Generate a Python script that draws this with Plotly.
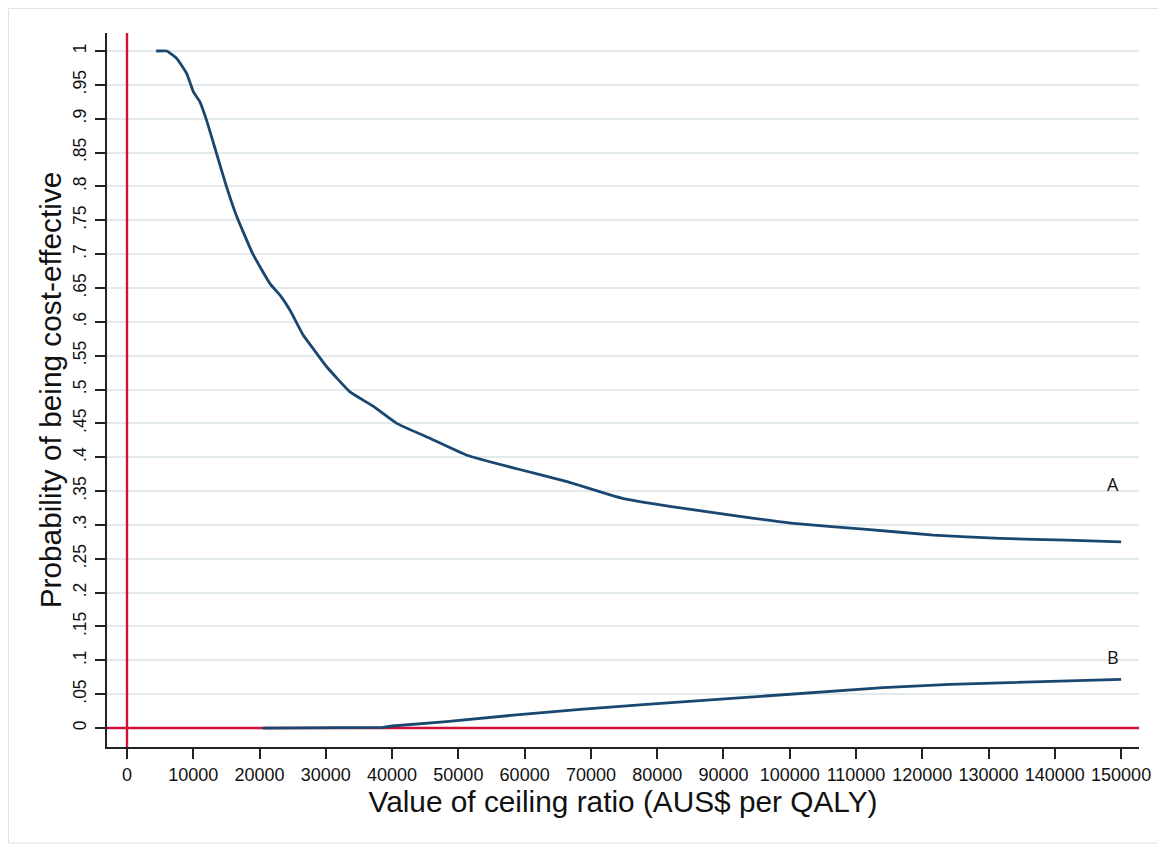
import plotly.graph_objects as go

# ---- data ----
ceiling_a = [4400, 6000, 7500, 9000, 10000, 11000, 12000, 13500, 15000, 16500,
             19000, 21600, 23200, 24600, 26600, 28500, 30100, 33600, 37200, 40700,
             45700, 51300, 58800, 66400, 74900, 84000, 93000, 101000, 111600,
             121700, 131700, 141800, 150000]
prob_a = [1.0, 1.0, 0.989, 0.967, 0.940, 0.925, 0.898, 0.849, 0.800, 0.757,
          0.700, 0.656, 0.638, 0.617, 0.580, 0.555, 0.534, 0.497, 0.475, 0.450,
          0.428, 0.403, 0.383, 0.364, 0.339, 0.3245, 0.312, 0.302, 0.2935,
          0.285, 0.280, 0.2775, 0.275]

ceiling_b = [20500, 33000, 38600, 40000, 48200, 58300, 68400, 78400, 88500, 95000,
             104100, 114100, 124200, 134200, 144300, 150000]
prob_b = [0.0, 0.0, 0.001, 0.003, 0.0094, 0.019, 0.0276, 0.035, 0.042, 0.047,
          0.0537, 0.0596, 0.0645, 0.0675, 0.070, 0.072]

series_labels = ["A", "B"]
label_pos_x = [148800, 148800]
label_pos_y = [0.36, 0.105]

x_ticks = list(range(0, 150001, 10000))
x_ticktext = [str(v) for v in x_ticks]
y_ticks = [i * 0.05 for i in range(21)]
y_ticktext = ["0", ".05", ".1", ".15", ".2", ".25", ".3", ".35", ".4", ".45", ".5",
              ".55", ".6", ".65", ".7", ".75", ".8", ".85", ".9", ".95", "1"]

X_RANGE = [-3018, 152700]
Y_RANGE = [-0.028, 1.0266]

NAVY = "#1a476f"
RED = "#cf1139"
GRID = "#e3eaee"

fig = go.Figure()
fig.add_trace(go.Scatter(x=ceiling_a, y=prob_a, mode="lines",
                         line=dict(color=NAVY, width=2.8, shape="spline", smoothing=0.4),
                         name="A"))
fig.add_trace(go.Scatter(x=ceiling_b, y=prob_b, mode="lines",
                         line=dict(color=NAVY, width=2.8), name="B"))

for lab, lx, ly in zip(series_labels, label_pos_x, label_pos_y):
    fig.add_annotation(x=lx, y=ly, text=lab, showarrow=False,
                       font=dict(family="Open Sans", size=18, color="#111"))

# reference lines at 0
fig.add_shape(type="line", xref="x", yref="y", x0=0, x1=0,
              y0=Y_RANGE[0], y1=Y_RANGE[1],
              line=dict(color=RED, width=2.4), layer="between")
fig.add_shape(type="line", xref="x", yref="y", x0=X_RANGE[0], x1=X_RANGE[1],
              y0=0, y1=0, line=dict(color=RED, width=2.4), layer="between")

# figure size (page body adds an 8px offset)
FW, FH = 1158, 839
L, T, W, H = 99, 25, 1032, 714
def px(v):
    return (v - L) / W
def py(v):
    return (T + H - v) / H
# outer light frame
fig.add_shape(type="rect", xref="paper", yref="paper",
              x0=px(0.5), x1=px(1156), y0=py(835), y1=py(0.5),
              line=dict(color="#e2e2e2", width=1), layer="below")

fig.update_layout(
    width=FW, height=FH,
    margin=dict(l=L, r=FW - L - W, t=T, b=FH - T - H),
    paper_bgcolor="white", plot_bgcolor="white",
    showlegend=False,
    font=dict(family="Liberation Sans, Arial", color="#111"),
)
fig.update_xaxes(
    range=X_RANGE, tickvals=x_ticks, ticktext=x_ticktext, automargin=False,
    showline=True, linecolor="#222", linewidth=1.5,
    ticks="outside", ticklen=10, tickwidth=1.5, tickcolor="#222",
    tickfont=dict(size=18), showgrid=False, zeroline=False,
    ticklabelstandoff=1,
    title=dict(text="Value of ceiling ratio (AUS$ per QALY)",
               font=dict(size=29.8), standoff=0),
)
fig.update_yaxes(
    range=Y_RANGE, tickvals=y_ticks, ticktext=y_ticktext, automargin=False,
    showline=True, linecolor="#222", linewidth=1.5,
    ticks="outside", ticklen=10, tickwidth=1.5, tickcolor="#222",
    tickfont=dict(size=17.5), tickangle=-90,
    showgrid=True, gridcolor=GRID, gridwidth=1.5, zeroline=False,
    ticklabelstandoff=2,
    title=dict(text="Probability of being cost-effective",
               font=dict(size=29.8), standoff=0),
)

fig.write_html("out.html")
